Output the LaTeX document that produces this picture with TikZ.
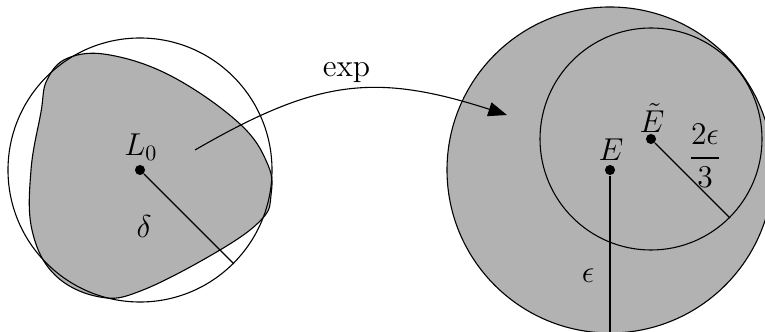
\documentclass[tikz,border=0pt]{standalone}
\usepackage{amsmath}
\usepackage{xcolor}
\usepackage{tikz}
\usetikzlibrary{arrows.meta, positioning}

\begin{document}
\begin{tikzpicture}[
		  x=0.016cm, y=-0.016cm,
		  font=\Large,
		  line width=0.5pt,
		  dot/.style={circle, fill=black, inner sep=0pt, minimum size=4.6pt},
		  region/.style={draw, fill=gray!60},
		  ring/.style={draw},
		  maparrow/.style={-{Triangle[length=8.5pt,width=6.5pt]}}
		]
		\useasboundingbox (0,0) rectangle (765,332);

		% --- centres ---
		\coordinate (cL) at (140,170);
		\coordinate (cE) at (610,170);
		\coordinate (cEt) at (651,139);

		% --- left side: blob and ball ---
		\draw[region] plot[smooth cycle, tension=0.65] coordinates {
		  (47,80) (68,58) (110,55) (173,77) (240,124) (268,165) (271,195)
		  (262,219) (220,250) (143,290) (100,297) (55,275) (32,230) (31,170) (41,112)};
		\draw[ring] (cL) circle[radius=132];

		% --- right side: balls ---
		\draw[region] (cE) circle[radius=163];
		\draw[ring] (cEt) circle[radius=111];

		% --- points ---
		\node[dot] (L0) at (cL) {};
		\node[dot] (E) at (cE) {};
		\node[dot] (Et) at (cEt) {};
		\node (L0lab) at (141,147) {$L_0$};
		\node (Elab) at (611,150) {$E$};
		\node (Etlab) at (652,118) {$\tilde{E}$};

		% --- radii ---
		\coordinate (Lrim) at (234,264);
		\coordinate (Erim) at (610,334);
		\coordinate (Etrim) at (730,218);
		\draw (L0) -- (Lrim);
		\draw (E) -- (Erim);
		\draw (Et) -- (Etrim);
		\node (delta) at (144,227) {$\delta$};
		\node (eps) at (588,276) {$\epsilon$};
		\node (twothirds) at (705,156) {$\dfrac{2\epsilon}{3}$};

		% --- map ---
		\coordinate (from) at (195,150);
		\coordinate (to) at (507,115);
		\draw[maparrow] (from) .. controls (316,80) and (374,72) .. node[pos=0.5, above] (explab) {$\exp$} (to);

		\end{tikzpicture}
\end{document}
